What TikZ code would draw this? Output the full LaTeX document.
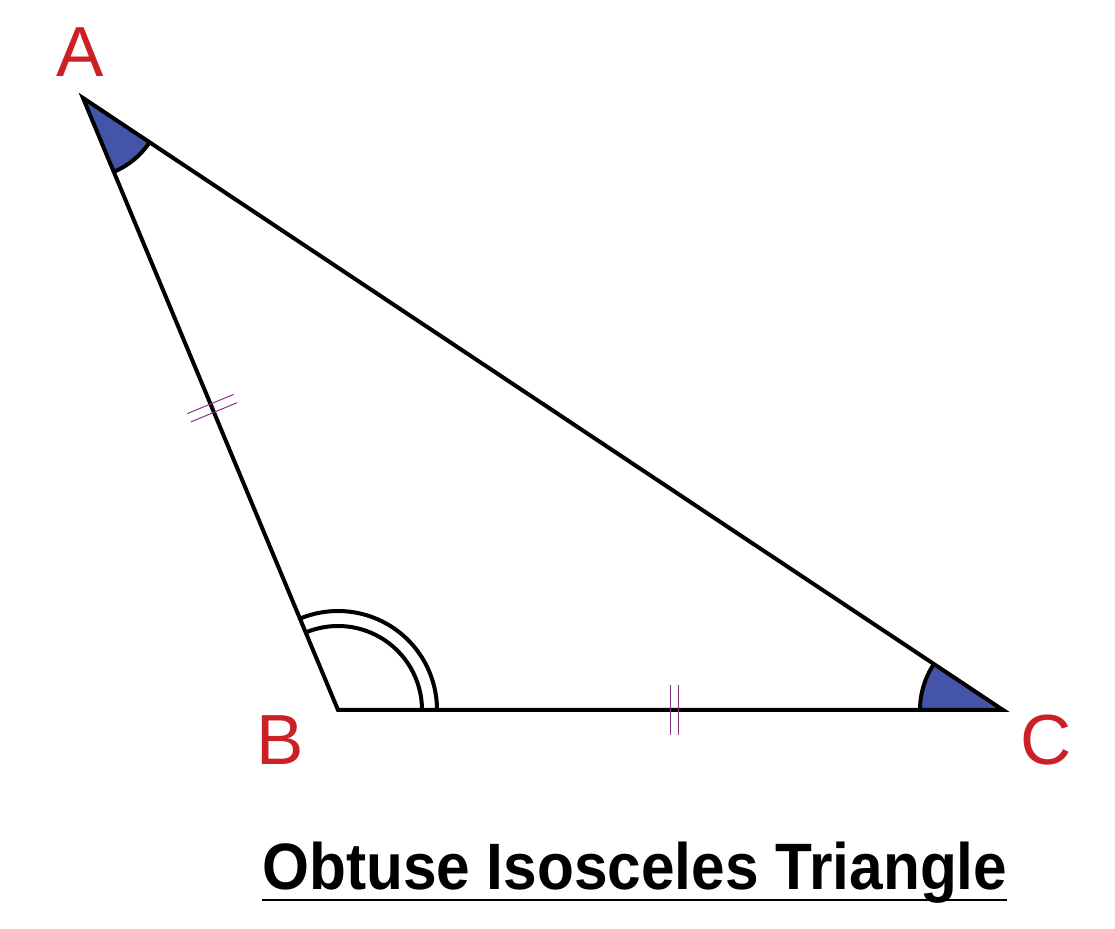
\documentclass[tikz,border=0pt]{standalone}
\usepackage{fontspec}
\setmainfont{Liberation Sans}
\usetikzlibrary{calc}
\definecolor{anglefill}{RGB}{68,84,168}
\definecolor{labelred}{RGB}{204,32,39}
\definecolor{tickpurple}{RGB}{140,50,140}
\tikzset{
  edge/.style={line width=4pt, line join=miter},
  arcline/.style={line width=4pt},
  tickmark/.style={tickpurple, line width=1pt},
  vlabel/.style={text=labelred, font=\fontsize{71}{71}\selectfont, inner sep=0pt, anchor=base},
}
\begin{document}
\begin{tikzpicture}[x=1pt,y=1pt]
\useasboundingbox (0,0) rectangle (1115,928);
\coordinate (A) at (83,830);
\coordinate (B) at (338,218);
\coordinate (C) at (1003,218);
% angle A
\fill[anglefill] (A) -- ++(292.62:80) arc[start angle=292.62, end angle=326.36, radius=80] -- cycle;
\draw[arcline] ($(A)+(292.62:80)$) arc[start angle=292.62, end angle=326.36, radius=80];
% angle C
\fill[anglefill] (C) -- ++(146.36:83) arc[start angle=146.36, end angle=180, radius=83] -- cycle;
\draw[arcline] ($(C)+(146.36:83)$) arc[start angle=146.36, end angle=180, radius=83];
% angle B (double arc)
\draw[arcline] ($(B)+(0:84)$) arc[start angle=0, end angle=112.62, radius=84];
\draw[arcline] ($(B)+(0:99)$) arc[start angle=0, end angle=112.62, radius=99];
% triangle
\draw[edge] (A) -- (B) -- (C) -- cycle;
% ticks on AB
\coordinate (ab1) at ($(A)!0.5!(B)$);
\coordinate (ab2) at ($(A)!0.5136!(B)$);
\draw[tickmark] ($(ab1)!25pt!90:(B)$) -- ($(ab1)!25pt!-90:(B)$);
\draw[tickmark] ($(ab2)!25pt!90:(B)$) -- ($(ab2)!25pt!-90:(B)$);
% ticks on BC
\coordinate (bc1) at ($(B)!0.5!(C)$);
\coordinate (bc2) at ($(B)!0.5114!(C)$);
\draw[tickmark] ($(bc1)!25pt!90:(C)$) -- ($(bc1)!25pt!-90:(C)$);
\draw[tickmark] ($(bc2)!25pt!90:(C)$) -- ($(bc2)!25pt!-90:(C)$);
% labels
\node[vlabel] (la) at (80,851) {A};
\node[vlabel] (lb) at (280,163) {B};
\node[vlabel] (lc) at (1046,163) {C};
% title
\node[anchor=base west, inner sep=0pt] (title) at (262,38) {\resizebox{745pt}{\height}{\fontsize{65.6}{66}\selectfont\bfseries Obtuse Isosceles Triangle}};
\coordinate (ul1) at (262,28);
\coordinate (ul2) at (1007,28);
\draw[line width=1.3pt] (ul1) -- (ul2);
\end{tikzpicture}
\end{document}
